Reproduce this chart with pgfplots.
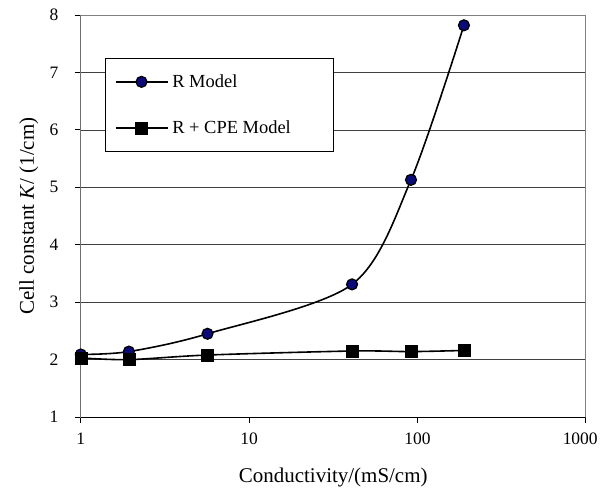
\documentclass[border=0pt]{standalone}
\usepackage{pgfplots}
\pgfplotsset{compat=1.18}
\usepackage{fontspec}
\setmainfont{Liberation Serif}
\definecolor{navy}{RGB}{10,10,120}
\begin{document}
\begin{tikzpicture}
\begin{axis}[
  name=ax,
  scale only axis,
  width=506pt, height=403pt,
  xmode=log, xmin=1, xmax=1000,
  ymin=1, ymax=8,
  xtick={1,10,100,1000},
  xticklabels={1,10,100,\hspace*{-11pt}1000},
  ytick={1,2,3,4,5,6,7,8},
  xminorticks=false,
  /pgf/number format/assume math mode=true,
  tick label style={font=\fontsize{17.5}{20}\selectfont},
  xticklabel style={yshift=-6pt},
  yticklabel style={xshift=-13pt},
  ymajorgrids,
  grid style={black!75, line width=0.7pt},
  axis line style={gray, line width=0.9pt},
  tick style={black, line width=0.9pt},
  major tick length=6pt,
  tick align=outside,
  xtick pos=bottom, ytick pos=left,
  xlabel={Conductivity/(mS/cm)},
  ylabel={Cell constant \textit{K}/ (1/cm)},
  label style={font=\fontsize{21}{24}\selectfont},
  xlabel style={at={(axis description cs:0.5,0)}, anchor=center, yshift=-61pt},
  ylabel style={at={(axis description cs:0,0.5)}, anchor=center, yshift=52pt},
  legend style={at={(0.0488,0.8933)}, anchor=north west, draw=black, line width=0.7pt, fill=white,
    font=\fontsize{18.5}{21}\selectfont, row sep=28pt, inner xsep=9pt, inner ysep=14.5pt},
  legend cell align=left,
  legend image code/.code={\draw[mark repeat=2,mark phase=2,#1] plot coordinates {(0pt,0pt) (26pt,0pt) (52pt,0pt)};},
]
\addplot[black, line width=1.6pt, smooth, tension=0.5, mark=*, mark size=5.5pt,
  mark options={fill=navy, draw=black, line width=1.2pt}]
  coordinates {(1,2.09) (1.93,2.14) (5.66,2.45) (40.9,3.31) (91.6,5.13) (189,7.82)};
\addlegendentry{\hspace*{2pt}R Model}
\addplot[black, line width=1.6pt, smooth, tension=0.5, mark=square*, mark size=6pt,
  mark options={fill=black, draw=black, line width=0.5pt}]
  coordinates {(1,2.03) (1.93,2.00) (5.66,2.08) (40.9,2.15) (91.6,2.14) (189,2.16)};
\addlegendentry{\hspace*{2pt}R + CPE Model\hspace*{32pt}}
\draw[black, line width=0.9pt] (rel axis cs:0,1) -- (rel axis cs:0,0) -- (rel axis cs:1,0);
\end{axis}
\path (ax.south west) ++(-81pt,-74pt) coordinate (bl);
\path (ax.north east) ++(14pt,15pt) coordinate (tr);
\path (bl) rectangle (tr);
\end{tikzpicture}
\end{document}
